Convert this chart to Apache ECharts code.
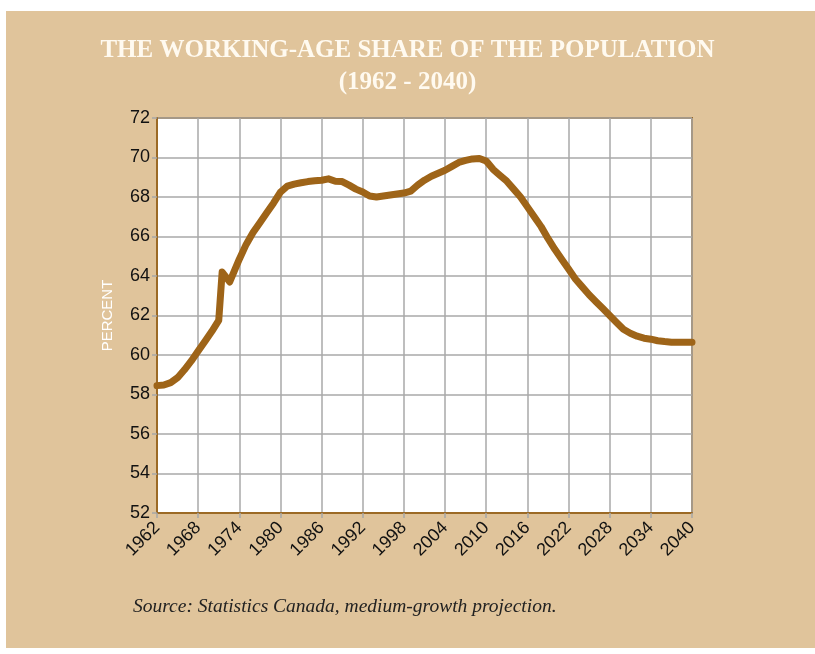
<!DOCTYPE html>
<html>
<head>
<meta charset="utf-8">
<script src="https://cdn.jsdelivr.net/npm/echarts@6/dist/echarts.min.js"></script>
<style>
  html, body { margin: 0; padding: 0; background: #fff; }
  .panel { position: absolute; left: 6px; top: 11px; right: 0; bottom: 6px; background: #e0c49b; }
  #chart { position: absolute; left: 0; top: 0; width: 815px; height: 654px; }
</style>
</head>
<body>
<div class="panel"></div>
<div id="chart"></div>
<script>
  // years (a few points sit between years where the line kinks)
  var years = [
    1962, 1963, 1964, 1965, 1966, 1967, 1968, 1969, 1970, 1971, 1971.5, 1972.6,
    1974, 1975, 1976, 1977, 1978, 1979, 1980, 1981, 1982, 1983, 1984, 1985,
    1986, 1987, 1988, 1989, 1990, 1991, 1992, 1993, 1994, 1995, 1996, 1997,
    1998, 1999, 2000, 2001, 2002, 2003, 2004, 2005, 2006, 2007, 2008, 2009,
    2010, 2011, 2012, 2013, 2014, 2015, 2016, 2017, 2018, 2019, 2020, 2021,
    2022, 2023, 2024, 2025, 2026, 2027, 2028, 2029, 2030, 2031, 2032, 2033,
    2034, 2035, 2036, 2037, 2038, 2039, 2040
  ];
  // working-age share, percent
  var share = [
    58.45, 58.48, 58.6, 58.85, 59.25, 59.7, 60.2, 60.7, 61.2, 61.75, 64.2, 63.7,
    64.85, 65.6, 66.2, 66.7, 67.2, 67.7, 68.25, 68.55, 68.65, 68.72, 68.78, 68.82,
    68.85, 68.92, 68.8, 68.78, 68.6, 68.4, 68.25, 68.05, 68.0, 68.05, 68.1, 68.15,
    68.2, 68.3, 68.6, 68.85, 69.05, 69.2, 69.35, 69.55, 69.75, 69.85, 69.93, 69.95,
    69.82, 69.4, 69.1, 68.8, 68.4, 68.0, 67.5, 67.0, 66.5, 65.9, 65.35, 64.85,
    64.35, 63.85, 63.45, 63.05, 62.7, 62.35, 62.0, 61.65, 61.3, 61.1, 60.95, 60.85,
    60.8, 60.72, 60.68, 60.65, 60.65, 60.65, 60.65
  ];

  var points = years.map(function (y, i) { return [y, share[i]]; });

  var chart = echarts.init(document.getElementById('chart'));
  var option = {
    backgroundColor: 'transparent',
    animation: false,
    title: {
      text: 'THE WORKING-AGE SHARE OF THE POPULATION\n(1962 - 2040)',
      left: 'center',
      top: 30,
      textStyle: {
        fontFamily: 'Liberation Serif',
        fontWeight: 'bold',
        fontSize: 25,
        lineHeight: 32,
        color: '#fffaf0'
      }
    },
    grid: {
      left: 157,
      top: 118,
      right: 123,
      bottom: 141,
      show: true,
      backgroundColor: '#ffffff',
      borderColor: '#9c6a25',
      borderWidth: 2
    },
    xAxis: {
      type: 'value',
      min: 1962,
      max: 2040,
      interval: 6,
      axisLine: { show: true, lineStyle: { color: '#9c6a25', width: 2 } },
      axisTick: { show: true, length: 5, lineStyle: { color: '#a6a6a6', width: 1.5 } },
      splitLine: { show: true, lineStyle: { color: '#a8a8a8', width: 1.5 } },
      axisLabel: {
        rotate: 45,
        margin: 12,
        fontFamily: 'Liberation Sans',
        fontSize: 18,
        color: '#111',
        formatter: function (v) { return String(v); }
      }
    },
    yAxis: {
      type: 'value',
      min: 52,
      max: 72,
      interval: 2,
      name: 'PERCENT',
      nameLocation: 'middle',
      nameGap: 42,
      nameTextStyle: {
        fontFamily: 'Liberation Sans',
        fontSize: 15,
        color: '#ffffff'
      },
      axisLine: { show: true, lineStyle: { color: '#9c6a25', width: 2 } },
      axisTick: { show: true, length: 5, lineStyle: { color: '#a6a6a6', width: 1.5 } },
      splitLine: { show: true, lineStyle: { color: '#a8a8a8', width: 1.5 } },
      axisLabel: {
        margin: 7,
        fontFamily: 'Liberation Sans',
        fontSize: 18,
        color: '#111'
      }
    },
    series: [{
      type: 'line',
      data: points,
      showSymbol: false,
      smooth: false,
      lineStyle: { color: '#9e6418', width: 7, cap: 'round', join: 'round' }
    }],
    graphic: [{
      type: 'text',
      left: 133,
      top: 597,
      style: {
        text: 'Source: Statistics Canada, medium-growth projection.',
        fontFamily: 'Liberation Serif',
        fontStyle: 'italic',
        fontSize: 19.5,
        fill: '#222'
      }
    }]
  };
  chart.setOption(option);
</script>
</body>
</html>
